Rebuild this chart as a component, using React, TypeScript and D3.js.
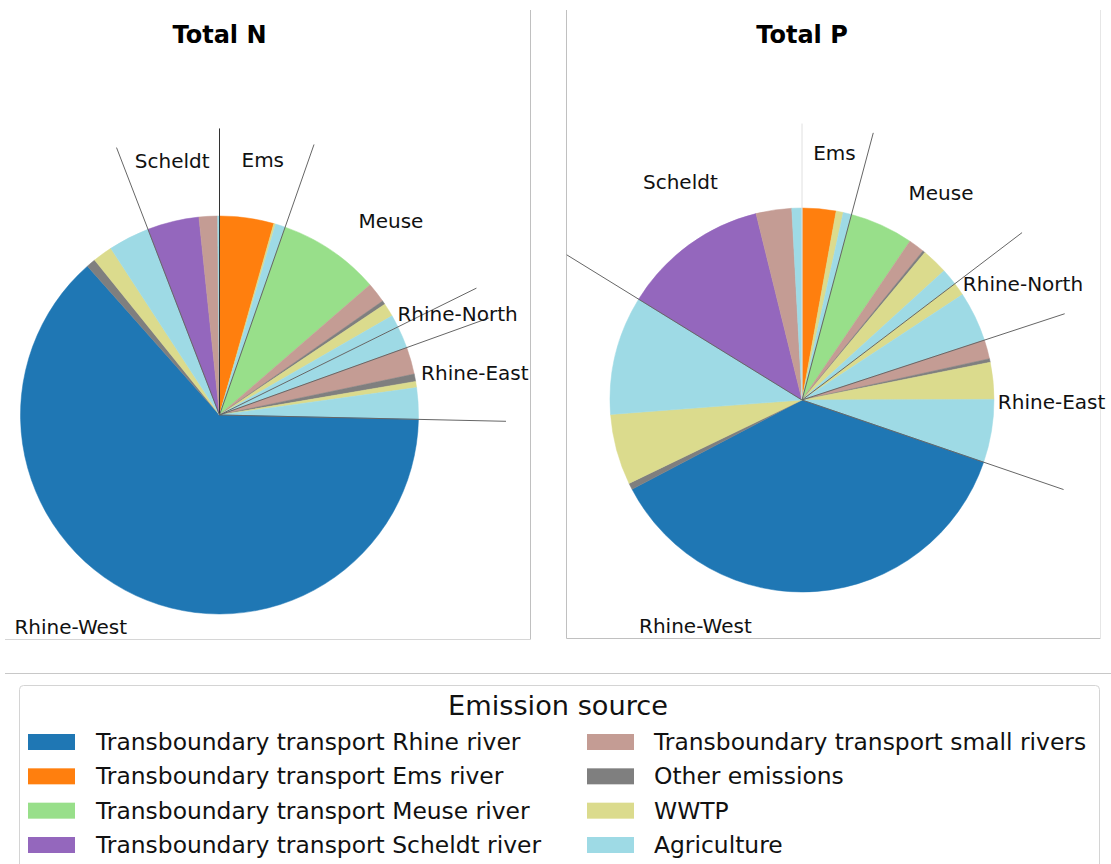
import React from "react";
import * as d3 from "d3";

// Emission sources (legend order) and their colours
const sources = [
  "Transboundary transport Rhine river",
  "Transboundary transport Ems river",
  "Transboundary transport Meuse river",
  "Transboundary transport Scheldt river",
  "Transboundary transport small rivers",
  "Other emissions",
  "WWTP",
  "Agriculture",
];
const palette = ["#1f77b4", "#ff7f0e", "#98df8a", "#9467bd", "#c49c94", "#7f7f7f", "#dbdb8d", "#9edae5"];

// Regions, clockwise from 12 o'clock, and the transboundary river feeding each
const regions = ["Ems", "Meuse", "Rhine-North", "Rhine-East", "Rhine-West", "Scheldt"];
const regionRiver = [
  "Transboundary transport Ems river",
  "Transboundary transport Meuse river",
  "Transboundary transport Rhine river",
  "Transboundary transport Rhine river",
  "Transboundary transport Rhine river",
  "Transboundary transport Scheldt river",
];
// Components inside each region: [transboundary river, small rivers, other, WWTP, agriculture]
const componentSources = [
  null,
  "Transboundary transport small rivers",
  "Other emissions",
  "WWTP",
  "Agriculture",
];

// Share of total load (%) per region and component
const totalNShares = [
  [4.4, 0, 0, 0.15, 0.8],
  [8.3, 1.65, 0.3, 1.1, 1.0],
  [0, 0, 0, 0, 1.8],
  [0, 2.2, 0.6, 0.5, 2.55],
  [63.1, 0, 0.75, 1.6, 3.35],
  [4.2, 1.5, 0, 0, 0.15],
];
const totalPShares = [
  [2.85, 0, 0, 0.6, 0.7],
  [5.35, 1.35, 0.2, 2.2, 1.4],
  [0, 0, 0, 1.1, 4.2],
  [0, 1.6, 0.3, 3.1, 5.3],
  [37.05, 0, 0.55, 5.95, 10.0],
  [12.35, 3.0, 0, 0, 0.85],
];

const FONT = "DejaVu Sans, Verdana, sans-serif";
const color = d3.scaleOrdinal<string, string>().domain(sources).range(palette);

type Slice = { region: string; source: string; value: number };

function flatten(shares: number[][]): Slice[] {
  const out: Slice[] = [];
  regions.forEach((region, i) => {
    shares[i].forEach((v, j) => {
      out.push({ region, source: componentSources[j] ?? regionRiver[i], value: v });
    });
  });
  return out;
}

function RegionPie({
  title, shares, cx, cy, r, topLineColor,
}: { title: string; shares: number[][]; cx: number; cy: number; r: number; topLineColor: string }) {
  const slices = flatten(shares);
  const pie = d3.pie<Slice>().sort(null).value((d) => d.value);
  const arcs = pie(slices);
  const arc = d3.arc<d3.PieArcDatum<Slice>>().innerRadius(0).outerRadius(r);

  const groupPie = d3.pie<number>().sort(null);
  const groupArcs = groupPie(shares.map((s) => d3.sum(s)));

  const lineR = r * 1.44;
  const labelR = r * 1.3;

  return (
    <g>
      <text x={cx} y={43} textAnchor="middle" fontFamily={FONT} fontWeight="bold" fontSize={24} fill="#000">
        {title}
      </text>
      <g transform={`translate(${cx},${cy})`}>
        {arcs.filter((a) => a.data.value > 0).map((a, i) => (
          <path key={i} d={arc(a) ?? ""} fill={color(a.data.source)} stroke={color(a.data.source)} strokeWidth={0.5} />
        ))}
        {groupArcs.map((g, i) => (
          <line
            key={`l${i}`}
            x1={0}
            y1={0}
            x2={Math.sin(g.startAngle) * lineR}
            y2={-Math.cos(g.startAngle) * lineR}
            stroke={i === 0 ? topLineColor : "#666"}
            strokeWidth={1}
          />
        ))}
        {groupArcs.map((g, i) => {
          const mid = (g.startAngle + g.endAngle) / 2;
          return (
            <text
              key={`t${i}`}
              x={Math.sin(mid) * labelR}
              y={-Math.cos(mid) * labelR}
              textAnchor="middle"
              dominantBaseline="central"
              fontFamily={FONT}
              fontSize={20}
              fill="#111"
            >
              {regions[i]}
            </text>
          );
        })}
      </g>
    </g>
  );
}

function Legend() {
  const rows = 4;
  const colPatchX = [28, 587];
  const colTextX = [96, 654];
  const rowY = d3.scaleLinear().domain([0, rows - 1]).range([742, 845]);
  return (
    <g>
      <rect x={19.5} y={685.5} width={1080} height={220} rx={4} fill="#fff" stroke="#d4d4d4" />
      <text x={558} y={715} textAnchor="middle" fontFamily={FONT} fontSize={27.2} fill="#111">
        Emission source
      </text>
      {sources.map((s, i) => {
        const col = Math.floor(i / rows);
        const row = i % rows;
        const y = rowY(row);
        return (
          <g key={s}>
            <rect x={colPatchX[col]} y={y - 8} width={47} height={16} fill={color(s)} />
            <text x={colTextX[col]} y={y + 8} fontFamily={FONT} fontSize={23.4} fill="#111">
              {s}
            </text>
          </g>
        );
      })}
    </g>
  );
}

export default function App() {
  return (
    <svg
      width={1111}
      height={864}
      viewBox="0 0 1111 864"
      style={{ position: "absolute", left: 0, top: 0, background: "#fff" }}
    >
      <rect x={0} y={0} width={1111} height={864} fill="#fff" />
      {/* panel frames */}
      <line x1={530.5} y1={10} x2={530.5} y2={639.5} stroke="#c0c0c0" />
      <line x1={5} y1={639.5} x2={530.5} y2={639.5} stroke="#d6d6d6" />
      <line x1={566.5} y1={10} x2={566.5} y2={638.5} stroke="#c0c0c0" />
      <line x1={566.5} y1={638.5} x2={1100.5} y2={638.5} stroke="#c0c0c0" />
      <line x1={1100.5} y1={10} x2={1100.5} y2={638.5} stroke="#e6e6e6" />
      <line x1={5} y1={673.5} x2={1111} y2={673.5} stroke="#c8c8c8" />

      <RegionPie title="Total N" shares={totalNShares} cx={219.5} cy={415} r={199} topLineColor="#333" />
      <RegionPie title="Total P" shares={totalPShares} cx={802} cy={400} r={192} topLineColor="#e0e0e0" />
      <Legend />
    </svg>
  );
}
